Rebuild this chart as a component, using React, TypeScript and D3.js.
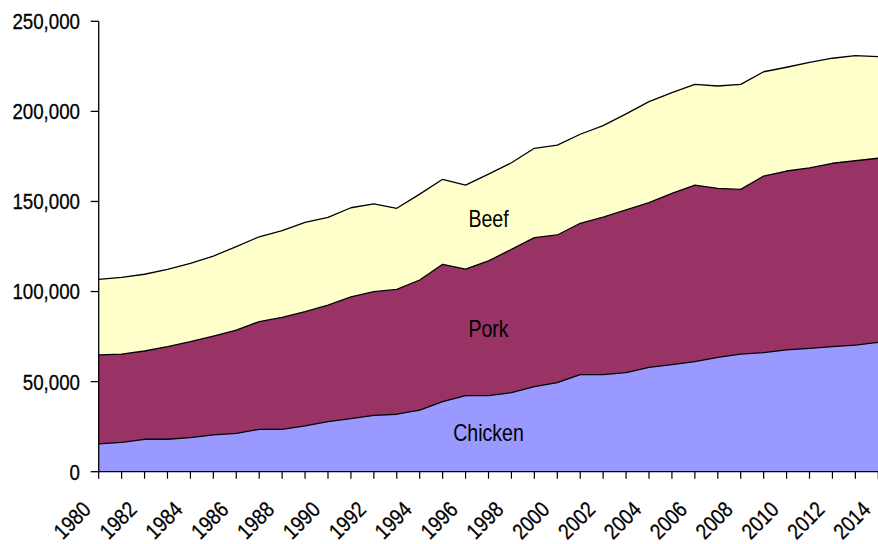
import React from "react";
import * as d3 from "d3";

const years = [
  1980, 1981, 1982, 1983, 1984, 1985, 1986, 1987, 1988, 1989, 1990, 1991,
  1992, 1993, 1994, 1995, 1996, 1997, 1998, 1999, 2000, 2001, 2002, 2003,
  2004, 2005, 2006, 2007, 2008, 2009, 2010, 2011, 2012, 2013, 2014,
];

const chicken = [
  15400, 16300, 18000, 18000, 18900, 20400, 21300, 23500, 23500, 25400, 27800,
  29500, 31300, 31900, 34200, 38900, 42200, 42200, 43900, 47200, 49400, 53900,
  53900, 55000, 57900, 59400, 61100, 63500, 65300, 66100, 67600, 68500, 69400,
  70300, 71800,
];

const pork = [
  49400, 49000, 49000, 51400, 53300, 54900, 57300, 59800, 62200, 63400, 64600,
  67500, 68600, 69300, 72200, 76200, 70300, 74800, 79500, 82700, 82000, 84000,
  87400, 90300, 91400, 95100, 98000, 93800, 91400, 98000, 99300, 100200, 101800,
  102300, 102200,
];

const beef = [
  42000, 42600, 42600, 42900, 43500, 44400, 46300, 47100, 48100, 49600, 48800,
  49500, 48700, 45000, 47700, 47200, 46600, 48200, 48100, 49600, 49900, 49400,
  50800, 53300, 56100, 55900, 55900, 56800, 58300, 57900, 57600, 58500, 58300,
  58300, 56400,
];

const yTicks = [0, 50000, 100000, 150000, 200000, 250000];
const xLabelYears = [
  1980, 1982, 1984, 1986, 1988, 1990, 1992, 1994, 1996, 1998, 2000, 2002, 2004,
  2006, 2008, 2010, 2012, 2014,
];

const seriesNames = ["Chicken", "Pork", "Beef"];
const seriesColors = ["#9999FF", "#993366", "#FFFFCC"];
const seriesLabels = [
  { name: "Chicken", year: 1997.0, value: 17100 },
  { name: "Pork", year: 1997.0, value: 74800 },
  { name: "Beef", year: 1997.0, value: 135800 },
];

const FONT = "'Liberation Sans', Arial, sans-serif";
const SX = 0.85;

export default function App() {
  const W = 878;
  const H = 544;
  const left = 98.7;
  const right = 878.3;
  const top = 21.3;
  const bottom = 471.7;

  const x = d3.scaleLinear().domain([1980, 2014]).range([left, right]);
  const y = d3.scaleLinear().domain([0, 250000]).range([bottom, top]);

  const table = years.map((yr, i) => ({
    year: yr,
    Chicken: chicken[i],
    Pork: pork[i],
    Beef: beef[i],
  }));
  const stacked = d3.stack<any>().keys(seriesNames)(table);

  const area = d3
    .area<any>()
    .x((d) => x(d.data.year))
    .y0((d) => y(d[0]))
    .y1((d) => y(d[1]));
  const line = d3
    .line<any>()
    .x((d) => x(d.data.year))
    .y((d) => y(d[1]));

  return (
    <div style={{ position: "fixed", left: 0, top: 0, width: W, height: H, background: "#fff" }}>
      <svg width={W} height={H} style={{ display: "block" }}>
        {stacked.map((s, i) => (
          <path key={"a" + i} d={area(s) || ""} fill={seriesColors[i]} stroke="none" />
        ))}
        {stacked.map((s, i) => (
          <path
            key={"l" + i}
            d={line(s) || ""}
            fill="none"
            stroke="#000"
            strokeWidth={1.3}
            strokeLinejoin="round"
          />
        ))}
        {/* y axis */}
        <line x1={left} x2={left} y1={top} y2={bottom} stroke="#000" strokeWidth={1.3} />
        {yTicks.map((t) => (
          <g key={"yt" + t}>
            <line x1={left - 8} x2={left} y1={y(t)} y2={y(t)} stroke="#000" strokeWidth={1.3} />
            <text
              transform={`translate(80,${y(t)}) scale(${SX},1)`}
              dy="0.36em"
              textAnchor="end"
              fontFamily={FONT}
              fontSize={22}
              fill="#000"
              stroke="#000"
              strokeWidth={0.3}
            >
              {d3.format(",")(t)}
            </text>
          </g>
        ))}
        {/* x axis */}
        <line x1={left} x2={W} y1={bottom} y2={bottom} stroke="#000" strokeWidth={1.3} />
        {years.map((yr) => (
          <line
            key={"xt" + yr}
            x1={x(yr)}
            x2={x(yr)}
            y1={bottom}
            y2={bottom + 7}
            stroke="#000"
            strokeWidth={1.2}
          />
        ))}
        {xLabelYears.map((yr) => (
          <text
            key={"xl" + yr}
            transform={`translate(${x(yr) - 6.5},${511}) rotate(-45) scale(${SX},1)`}
            textAnchor="end"
            fontFamily={FONT}
            fontSize={22}
            fill="#000"
            stroke="#000"
            strokeWidth={0.3}
          >
            {yr}
          </text>
        ))}
        {seriesLabels.map((l) => (
          <text
            key={"sl" + l.name}
            transform={`translate(${x(l.year)},${y(l.value)}) scale(${SX},1)`}
            textAnchor="middle"
            fontFamily={FONT}
            fontSize={23}
            fill="#000"
          >
            {l.name}
          </text>
        ))}
      </svg>
    </div>
  );
}
